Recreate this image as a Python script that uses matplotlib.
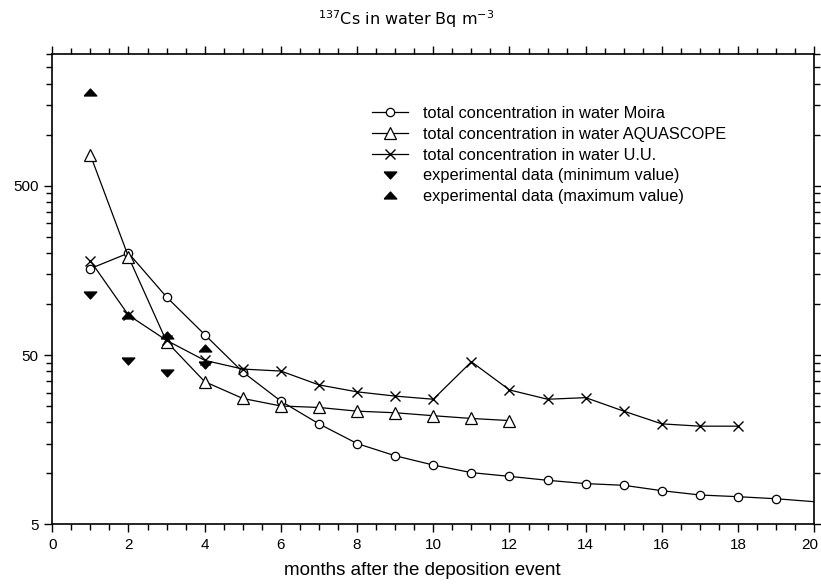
import numpy as np
import matplotlib
matplotlib.use('Agg')
import matplotlib.pyplot as plt
from matplotlib.ticker import FixedLocator, FixedFormatter, NullFormatter
from matplotlib.transforms import ScaledTranslation

plt.rcParams['font.family'] = ['Liberation Sans', 'DejaVu Sans']
plt.rcParams['mathtext.default'] = 'regular'

# months after deposition
months_moira = np.arange(1, 21)
moira = [162, 200, 110, 66, 39.7, 26.7, 19.6, 15.0, 12.7, 11.2,
         10.1, 9.6, 9.1, 8.7, 8.5, 7.9, 7.45, 7.28, 7.08, 6.8]

months_aqua = np.arange(1, 13)
aquascope = [759, 190, 60, 34.8, 27.7, 25.0, 24.5, 23.3, 22.8, 21.9, 21.1, 20.5]

months_uu = np.arange(1, 19)
uu = [180, 86, 61, 46.5, 41.3, 40.2, 33.3, 30.3, 28.6, 27.4,
      45.6, 31.1, 27.4, 28.0, 23.3, 19.6, 19.0, 19.0]

months_exp = [1, 2, 3, 4]
exp_min = [113, 46, 39.3, 43.6]
exp_max = [1795, 86, 66, 55.2]

labels = ['total concentration in water Moira',
          'total concentration in water AQUASCOPE',
          'total concentration in water U.U.',
          'experimental data (minimum value)',
          'experimental data (maximum value)']

# flattened triangles like the original
tri_down = [(-1, 0.55), (1, 0.55), (0, -0.55), (-1, 0.55)]
tri_up = [(-1, -0.55), (1, -0.55), (0, 0.55), (-1, -0.55)]

fig = plt.figure(figsize=(8.21, 5.88), dpi=100)
ax = fig.add_axes([0.0637, 0.1083, 0.9281, 0.7999])

ax.plot(months_moira, moira, color='black', lw=0.9, marker='o', ms=6,
        mfc='white', mec='black', mew=0.9, markevery=slice(0, 19), label=labels[0])
ax.plot(months_aqua, aquascope, color='black', lw=0.9, marker='^', ms=8,
        mfc='white', mec='black', mew=0.9, label=labels[1])
ax.plot(months_uu, uu, color='black', lw=0.9, marker='x', ms=7,
        mec='black', mew=1.0, label=labels[2])
ax.plot(months_exp, exp_min, ls='none', marker=tri_down, ms=9,
        color='black', label=labels[3])
ax.plot(months_exp, exp_max, ls='none', marker=tri_up, ms=9,
        color='black', label=labels[4])

ax.set_yscale('log')
ax.set_xlim(0, 20)
ax.set_ylim(5, 3000)

ax.xaxis.set_major_locator(FixedLocator(np.arange(0, 21, 2)))
ax.xaxis.set_minor_locator(FixedLocator(np.arange(0, 20.01, 0.5)))
ax.yaxis.set_major_locator(FixedLocator([5, 50, 500]))
ax.yaxis.set_major_formatter(FixedFormatter(['5', '50', '500']))
minor_y = list(range(10, 50, 5)) + list(range(100, 500, 50)) + list(range(1000, 3001, 500))
ax.yaxis.set_minor_locator(FixedLocator(minor_y))
ax.yaxis.set_minor_formatter(NullFormatter())

ax.tick_params(which='both', direction='out', top=True, right=True,
               labeltop=False, labelright=False, width=1.0, labelsize=11, pad=4)
ax.tick_params(which='major', length=6)
ax.tick_params(which='minor', length=4)
for s in ax.spines.values():
    s.set_linewidth(1.2)

# nudge the last x label so it stays inside the figure
fig.canvas.draw()
last = ax.get_xticklabels()[-1]
last.set_transform(last.get_transform() + ScaledTranslation(-3 / 72, 0, fig.dpi_scale_trans))

ax.set_xlabel('months after the deposition event', fontsize=13.5)
ax.xaxis.set_label_coords(0.485, -0.081)

fig.text(0.495, 0.968, r'$^{137}$Cs in water Bq m$^{-3}$', ha='center', va='center',
         fontsize=11.5, family='DejaVu Sans')

ax.legend(loc='upper left', bbox_to_anchor=(0.411, 0.903), frameon=False,
          fontsize=11.8, handlelength=2.2, handletextpad=0.9, labelspacing=0.35,
          borderaxespad=0)

fig.savefig('out.png', dpi=100)
